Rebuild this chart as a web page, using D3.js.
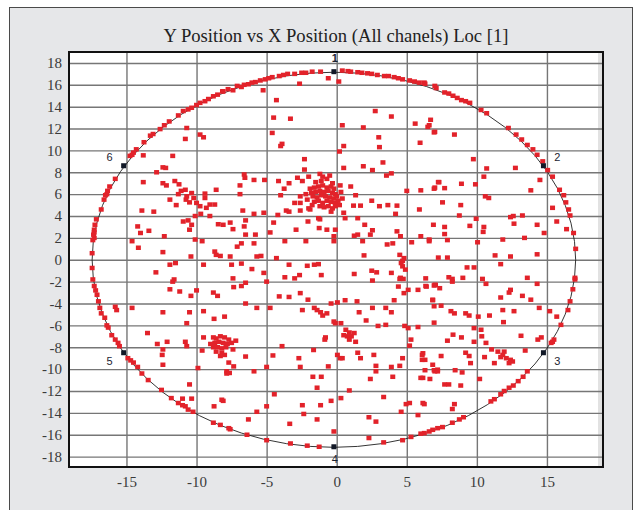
<!DOCTYPE html>
<html>
<head>
<meta charset="utf-8">
<script src="https://cdnjs.cloudflare.com/ajax/libs/d3/7.8.5/d3.min.js"></script>
<style>
  body { margin: 0; background: #fff; }
  svg text { font-family: "Liberation Serif", "DejaVu Serif", serif; }
  .grid line { stroke: #767676; stroke-width: 1.4; }
  .grid path { display: none; }
  .grid text { fill: #3a3a3a; font-size: 15px; }
  .ref text { font-family: "Liberation Sans", Arial, sans-serif; font-size: 11px; fill: #1c2433; }
</style>
</head>
<body>
<div id="chart"></div>
<script>
var chartTitle = "Y Position vs X Position (All chanels) Loc [1]";
var xTicks = [-15, -10, -5, 0, 5, 10, 15];
var yTicks = [18, 16, 14, 12, 10, 8, 6, 4, 2, 0, -2, -4, -6, -8, -10, -12, -14, -16, -18];

// fitted location circle: centre and radius
var ringCenter = [-0.2, 0];
var ringRadius = [17.25, 17.15];

// reference sensors 1..6
var refIds = ["1", "2", "3", "4", "5", "6"];
var refX = [-0.2, 14.75, 14.75, -0.2, -15.2, -15.2];
var refY = [17.2, 8.6, -8.5, -17.1, -8.5, 8.6];

// hits lying on the circle
var ringPts = [
  [-8.1,15.4],[-7.1,15.9],[-6.6,16.0],[-6.05,16.2],[-5.45,16.4],[-4.6,16.7],[-4.1,16.8],[-3.5,17.0],
  [-2.5,17.1],[-1.75,17.2],[-1.15,17.2],[0.4,17.3],[1.0,17.2],[1.5,17.15],[2.2,17.05],[2.9,16.9],
  [3.4,16.8],[4.1,16.7],[4.7,16.5],[5.55,16.3],[6.25,16.2],[7.0,15.9],[6.3,16.1],[7.1,15.7],
  [7.7,15.3],[8.3,15.0],[8.0,15.2],[8.6,14.8],[9.5,14.35],[10.3,13.7],[10.7,13.4],[12.25,12.05],
  [12.8,11.45],[13.6,10.5],[14.0,10.1],[14.7,9.0],[15.05,8.2],[15.4,7.6],[15.9,6.4],[16.2,5.9],
  [16.35,5.25],[16.55,4.6],[16.65,4.05],[16.9,2.45],[17.05,1.0],[17.0,-1.65],
  [17.0,-1.8],[16.85,-2.7],[16.65,-3.8],[16.5,-4.6],[16.0,-5.95],[15.5,-7.3],[15.3,-7.6],
  [13.6,-10.2],[13.3,-10.7],[12.95,-11.1],[12.6,-11.5],[12.3,-11.7],[11.95,-12.0],[11.7,-12.3],
  [11.25,-12.75],[11.0,-12.95],[9.05,-14.4],[8.75,-14.6],[8.25,-14.9],[7.55,-15.3],[6.85,-15.55],
  [6.25,-15.85],[7.2,-15.4],[6.6,-15.7],[6.0,-15.9],[5.3,-16.2],[4.7,-16.5],[3.35,-16.7],[2.3,-16.3],
  [-1.25,-17.1],[-2.1,-17.0],[-3.3,-16.8],[-5.0,-16.5],[-6.4,-16.0],[-7.6,-15.5],
  [-7.7,-15.4],[-8.3,-15.1],[-8.8,-14.9],[-10.25,-13.9],[-10.6,-13.7],[-10.8,-13.4],[-11.0,-13.3],
  [-11.3,-13.1],[-11.8,-12.65],[-12.5,-11.9],[-13.45,-11.0],[-13.9,-10.4],[-14.2,-9.8],[-14.5,-9.4],
  [-14.7,-9.2],[-14.9,-9.0],[-15.5,-7.9],[-15.6,-7.6],[-15.8,-7.3],[-16.05,-6.9],[-16.3,-6.2],
  [-16.4,-6.0],[-16.55,-5.3],[-16.8,-4.9],[-16.9,-4.4],[-17.0,-3.8],[-17.1,-3.2],[-17.2,-2.8],
  [-17.3,-2.4],[-17.4,-1.8],[-17.45,-0.75],[-17.45,0.6],[-17.4,1.8],[-17.3,2.0],[-17.35,2.3],
  [-17.3,2.5],[-17.3,2.75],[-17.25,3.2],[-17.15,3.7],[-16.8,4.6],[-16.6,5.5],[-16.5,5.9],[-16.4,6.0],
  [-16.35,6.3],[-16.2,6.7],[-15.8,7.4],[-14.75,9.5],[-14.6,9.6],[-14.5,9.8],[-14.3,10.1],
  [-13.75,10.75],[-13.3,11.35],[-13.1,11.5],[-12.6,11.95],[-11.95,12.65],[-10.95,13.6],
  [-10.35,13.9],[-9.75,14.35],[-9.15,14.7],[-8.8,14.95],[-8.15,15.4],[-7.75,15.6],
  [-12.3,12.3],[-11.3,13.2],[-10.6,13.75],[-10.0,14.15],[-9.4,14.5],[-8.5,15.1],[-7.4,15.5],
  [-6.8,15.8],[-6.3,16.05],[-5.8,16.25],[-5.1,16.5],[-4.85,16.6],[-3.8,16.9],[-3.0,17.0],
  [-2.2,17.1],[0.8,17.25],[1.8,17.1],[2.5,17.0],[3.7,16.8],[4.4,16.6],[5.2,16.4],[5.9,16.2],
  [8.9,14.6],[9.2,14.5],[13.2,11.0],[14.3,9.6]
];

// dense group near the top centre
var clusterTop = [
  [-1.9,6.5],[-1.6,6.6],[-1.3,6.7],[-1.0,6.8],[-0.7,6.6],[-0.4,6.7],[-0.2,6.5],
  [-1.8,6.1],[-1.5,6.2],[-1.2,6.3],[-0.9,6.2],[-0.6,6.3],[-0.3,6.1],[-0.1,6.0],
  [-1.7,5.8],[-1.4,5.7],[-1.1,5.9],[-0.8,5.8],[-0.5,5.7],[-0.2,5.6],[0.0,5.8],
  [-1.6,5.3],[-1.3,5.4],[-1.0,5.2],[-0.7,5.4],[-0.4,5.3],[-0.1,5.2],[0.1,5.4],
  [-1.2,4.9],[-0.9,4.8],[-0.6,4.9],[-0.3,4.7],[-0.1,4.9],[-1.5,7.1],[-1.1,7.2],
  [-0.7,7.4],[-0.3,7.0],[-0.5,7.7],[-1.0,7.6],[-2.2,6.0],[-2.1,5.5],[-1.9,4.6],
  [-0.4,4.4],[0.3,6.2],[0.2,5.0],[0.4,5.6]
];

// dense group lower left
var clusterLow = [
  [-8.6,-7.2],[-8.3,-7.0],[-8.0,-7.1],[-7.7,-7.3],[-8.7,-7.6],[-8.4,-7.5],[-8.1,-7.6],
  [-7.8,-7.7],[-8.5,-8.0],[-8.2,-8.1],[-7.9,-8.0],[-8.6,-8.4],[-8.2,-8.5],[-7.5,-7.6],
  [-7.4,-8.2],[-8.8,-8.0],[-8.0,-8.7],[-8.3,-8.8],[-7.2,-7.4],[-9.0,-7.7]
];

var innerUL = [
  [-10.7,12.05],[-10.8,11.05],[-9.75,11.45],[-9.5,11.2],[-13.8,9.55],[-11.7,9.5],[-12.4,8.45],
  [-12.2,8.4],[-12.85,8.0],[-13.8,7.1],[-12.4,7.0],[-12.15,6.8],[-11.55,7.2],[-11.25,6.9],
  [-11.9,5.5],[-11.45,5.0],[-13.9,4.5],[-13.05,4.4],[-14.2,3.05],[-14.0,2.45],[-13.4,2.65],
  [-12.3,2.15],[-14.6,1.7],[-14.15,1.1],[-12.4,0.7],[-11.9,-0.45],[-11.5,-0.3],[-12.9,-1.15],
  [-11.6,-1.8],[-10.4,0.3],[-10.1,1.85],[-9.6,1.7],[-9.5,-0.45],[-8.7,0.75],[-8.6,0.45],
  [-10.5,2.75],[-10.6,3.6],[-10.35,3.2],[-10.95,3.5],[-10.1,4.0],[-9.7,4.2],[-9.05,4.0],
  [-8.45,3.25],[-8.7,5.05],[-9.4,6.05],[-8.6,6.4],[-11.3,6.0],[-11.1,6.3],[-10.8,6.4],
  [-10.7,5.8],[-10.35,6.1],[-10.2,5.65],[-10.5,5.25],[-10.0,5.2],[-9.75,4.9],[-9.3,4.75],
  [-9.05,5.05],[-9.4,5.65],[-10.75,5.5]
];

var innerUC = [
  [-0.6,16.6],[0.15,16.3],[-2.65,16.1],[-5.25,15.5],[-4.3,14.6],[-4.5,13.0],[-3.3,12.9],
  [2.75,13.6],[3.9,13.1],[5.6,12.45],[6.7,12.8],[6.6,12.3],[7.0,11.7],[-4.6,11.6],[0.4,12.3],
  [1.9,12.1],[3.0,11.2],[3.05,10.3],[5.95,10.7],[-4.0,10.4],[-3.9,10.6],[0.5,10.4],[0.2,9.9],
  [-2.3,9.2],[0.5,8.4],[1.9,8.55],[2.55,8.2],[3.3,8.9],[3.55,7.7],[3.9,7.9],[-2.3,8.25],
  [-6.6,7.8],[-6.55,7.5],[-5.9,7.3],[-5.15,7.3],[-4.15,7.2],[-3.4,7.0],[-3.75,6.5],[-4.0,5.9],
  [-2.8,7.5],[-2.45,7.2],[-2.0,7.6],[-1.2,7.85],[0.25,6.8],[1.0,6.7],[1.35,5.9],[2.5,5.4],
  [3.05,4.9],[3.65,5.0],[4.3,4.95],[6.0,6.35],[5.0,6.3],[7.3,7.1],[7.0,6.6],[5.9,4.6],[4.2,4.2],
  [4.3,2.6],[2.0,3.2],[2.55,2.7],[2.4,2.3],[6.9,3.2],[6.0,2.15],[1.2,4.95],[1.7,4.95],[0.5,4.3],
  [0.6,3.8],[1.5,3.8],[1.25,2.2],[1.5,2.3],[-2.6,5.8],[-2.6,5.2],[-3.0,5.2],[-3.6,4.5],
  [-3.4,4.4],[-2.6,4.5],[-2.0,4.7],[-1.75,5.0],[-1.3,3.8],[-1.2,3.7],[-4.2,4.1],[-4.5,3.4],
  [-5.2,4.3],[-5.9,4.2],[-6.7,4.5],[-6.9,6.0],[-6.9,6.8],[-6.5,3.6],[-6.6,3.05],[-7.4,2.8],
  [-7.6,3.4],[-8.1,3.2],[-6.5,2.3],[-5.8,2.3],[-4.75,2.5],[-2.9,2.75],[-2.05,3.5],[-1.25,2.9],
  [-0.7,2.75],[-0.1,2.75],[-0.2,2.15],[4.55,2.15]
];

var innerUR = [
  [6.5,12.15],[6.95,11.65],[8.4,11.45],[9.75,9.2],[10.7,8.35],[12.75,8.4],[14.5,7.3],[10.5,7.6],
  [9.9,6.9],[8.9,6.95],[7.25,7.1],[6.95,6.5],[7.7,6.55],[10.6,5.8],[10.85,5.65],[13.85,6.35],
  [7.55,5.25],[8.85,5.0],[15.4,4.75],[15.7,3.5],[16.4,2.8],[8.75,4.05],[9.95,3.75],[12.4,3.9],
  [12.6,4.0],[12.65,3.3],[13.25,4.05],[14.3,3.2],[14.8,2.45],[7.7,3.0],[9.5,3.1],[10.5,3.0],
  [10.45,2.55],[7.7,2.35],[6.6,1.85],[7.9,1.8],[10.05,1.6],[11.85,1.85],[13.4,2.0],[14.3,0.5],
  [11.3,0.4],[11.7,-0.4],[12.4,0.3],[7.25,0.2],[7.9,0.2],[9.3,-0.7],[9.8,-0.7],[9.0,-1.65],
  [10.4,-1.75],[13.6,-1.65],[14.3,-2.2],[8.0,-1.6],[8.25,-1.75],[6.35,-1.7],[6.95,-2.35]
];

var innerLL = [
  [-15.8,-4.3],[-15.7,-4.6],[-14.6,-4.4],[-12.4,-4.8],[-10.5,-4.8],[-10.4,-3.3],[-10.0,-2.8],
  [-11.2,-2.9],[-11.7,-2.0],[-11.9,-2.7],[-8.8,-3.0],[-8.5,-3.3],[-9.5,-4.7],[-8.75,-5.4],
  [-8.0,-5.2],[-10.7,-5.8],[-13.5,-6.7],[-12.8,-7.7],[-12.1,-7.5],[-12.4,-8.2],[-12.45,-8.7],
  [-12.4,-9.6],[-10.8,-7.5],[-10.7,-7.9],[-9.6,-8.3],[-9.9,-9.9],[-9.5,-7.1],[-8.8,-7.1],
  [-10.5,-11.4],[-11.0,-12.7],[-10.35,-12.7],[-8.75,-13.4],[-8.1,-12.9],[-7.7,-9.4],[-7.85,-10.2]
];

var innerLC = [
  [-7.1,1.2],[-6.8,1.5],[-5.9,1.5],[-3.7,1.7],[-2.2,1.7],[-0.2,1.7],[1.85,1.7],[3.6,1.4],[4.0,1.5],
  [5.35,1.6],[6.6,1.7],[-8.3,0.35],[-7.6,0.3],[-5.7,0.3],[-5.4,0.35],[-4.3,0.15],[-7.5,-0.45],
  [-6.8,-0.35],[-6.05,-0.85],[-5.2,-1.2],[-3.4,-0.45],[-2.1,-0.55],[-1.6,-0.45],[-1.3,-0.4],
  [-1.1,-1.4],[-2.65,-1.4],[-3.0,-1.7],[-3.7,-1.6],[-7.4,-1.7],[-6.5,-2.1],[-6.8,-2.4],
  [-7.35,-2.5],[-5.0,-2.0],[-4.1,-3.35],[-3.4,-3.4],[-2.6,-3.05],[-2.05,-3.65],[-6.5,-4.0],
  [-5.7,-4.4],[-4.75,-4.4],[-2.45,-4.6],[-1.6,-4.4],[-1.4,-4.6],[-1.15,-4.8],[-1.0,-5.1],
  [-0.7,-4.9],[-0.4,-4.0],[0.05,-3.9],[0.6,-3.7],[1.45,-3.8],[1.6,-4.8],[2.1,-5.55],[1.95,0.4],
  [2.5,-1.0],[2.85,-1.15],[2.55,-1.9],[1.25,-1.3],[3.9,-1.2],[4.5,-1.75],[4.8,0.15],[4.7,-0.6],
  [4.6,-0.3],[4.4,-2.45],[4.8,-3.05],[5.1,-2.75],[5.8,-2.75],[6.4,-2.45],[7.0,-2.3],[7.35,-2.6],
  [6.85,-3.7],[3.5,-4.4],[3.9,-4.8],[4.1,-3.7],[2.55,-4.4],[2.95,-6.05],[3.5,-5.95],[4.85,-6.05],
  [5.1,-6.25],[5.8,-6.15],[5.3,-7.3],[5.2,-7.85],[6.15,-8.55],[6.3,-9.15],[6.85,-9.6],[7.2,-10.05],
  [7.0,-10.2],[6.15,-10.8],[6.3,-10.1],[4.0,-10.7],[2.8,-10.2],[2.4,-10.9],[1.5,-8.5],[1.7,-9.0],
  [2.65,-8.7],[2.8,-9.7],[3.9,-9.8],[4.5,-9.7],[4.7,-9.0],[4.95,-13.2],[5.2,-13.1],[4.6,-13.9],
  [5.8,-14.2],[6.15,-13.1],[3.35,-12.55],[2.3,-14.4],[2.8,-14.8],[0.3,-12.65],[-0.4,-12.9],
  [-1.15,-13.3],[-1.4,-14.6],[-2.35,-14.1],[-2.45,-13.3],[-3.35,-15.0],[-4.45,-12.3],[-5.7,-13.9],
  [-5.0,-13.4],[-6.3,-14.6],[-8.2,-12.8],[-0.2,-15.7],[0.3,-5.8],[0.65,-6.4],[0.9,-6.65],
  [1.05,-7.0],[0.75,-7.0],[1.25,-6.7],[0.9,-7.3],[1.35,-7.5],[0.5,-6.9],[-0.1,-5.8],[-0.2,-5.65],
  [-0.8,-7.1],[-0.85,-7.3],[-1.65,-8.25],[-3.9,-7.9],[-4.55,-8.75],[-2.7,-9.0],[-2.6,-9.8],
  [-0.6,-9.75],[0.05,-8.7],[0.25,-9.0],[0.4,-9.0],[-1.7,-10.7],[-1.4,-11.7],[-1.1,-10.7],
  [0.9,-11.95],[-5.9,-10.2],[-7.85,-10.4],[-5.0,-9.8],[-6.5,-8.85],[-7.35,-9.75],[-7.65,-10.35],
  [4.5,0.45],[4.7,-0.1],[4.9,-0.9],[4.55,-1.65],[4.75,-1.75]
];

var innerLR = [
  [6.35,-2.4],[7.05,-2.3],[8.25,-2.0],[10.65,-2.2],[12.4,-2.75],[12.3,-3.0],[13.25,-3.3],
  [11.7,-3.45],[12.65,-4.7],[11.85,-4.6],[13.85,-3.65],[14.45,-4.4],[15.2,-4.7],[15.7,-5.2],
  [6.85,-3.65],[6.95,-4.25],[7.45,-4.2],[8.15,-4.7],[8.4,-4.9],[9.2,-4.9],[9.45,-5.1],[10.1,-5.2],
  [10.9,-5.1],[11.9,-5.7],[6.95,-5.75],[9.8,-6.25],[10.3,-6.4],[10.35,-7.0],[10.65,-7.6],
  [8.3,-6.85],[8.9,-7.1],[7.9,-7.4],[9.8,-7.5],[13.15,-6.95],[14.35,-7.3],[14.6,-7.1],[15.4,-7.5],
  [11.05,-8.2],[11.5,-8.4],[11.85,-8.7],[12.4,-9.15],[12.55,-9.3],[11.95,-8.4],[13.45,-8.3],
  [10.55,-8.9],[11.25,-9.45],[12.3,-9.45],[11.7,-8.9],[12.1,-9.0],[6.1,-8.7],[7.45,-8.8],
  [9.2,-8.5],[9.45,-8.8],[9.55,-9.45],[8.45,-10.1],[8.95,-10.3],[6.95,-10.1],[7.2,-10.2],
  [6.0,-10.8],[6.65,-10.9],[7.7,-11.4],[8.0,-11.4],[8.85,-11.5],[10.2,-10.9],[6.25,-13.2],
  [8.4,-13.2],[8.25,-13.65],[6.1,-9.15]
];

function scatterChart() {
  var _chart = {};

  var _width = 640, _height = 510,
    _margins = {top: 52, left: 69, right: 37, bottom: 43},
    _xDomain = [-19.1, 19.0],
    _yDomain = [-18.95, 19.0],
    _svg, _bodyG, _x, _y, _w, _h;

  _chart.render = function (id) {
    _w = _width - _margins.left - _margins.right;
    _h = _height - _margins.top - _margins.bottom;
    _x = d3.scaleLinear().domain(_xDomain).range([0, _w]);
    _y = d3.scaleLinear().domain(_yDomain).range([_h, 0]);

    _svg = d3.select('#' + id).append("svg")
      .attr("width", _width)
      .attr("height", _height);

    renderFrame();
    renderGrid();
    renderRing();
    renderPoints();
    renderRefs();

    _bodyG.append("rect")
      .attr("width", _w)
      .attr("height", _h)
      .attr("fill", "none")
      .attr("stroke", "#111")
      .attr("stroke-width", 2);
  };

  function renderFrame() {
    _svg.append("rect")
      .attr("x", 9.5).attr("y", 7.5)
      .attr("width", 623).attr("height", 530)
      .attr("fill", "#e6e7e9")
      .attr("stroke", "#4a4a4a");

    _svg.append("text")
      .attr("x", _margins.left + _w / 2)
      .attr("y", 42)
      .attr("text-anchor", "middle")
      .attr("textLength", 345)
      .attr("lengthAdjust", "spacingAndGlyphs")
      .style("font-size", "18px")
      .style("fill", "#222")
      .text(chartTitle);

    _bodyG = _svg.append("g")
      .attr("transform", "translate(" + _margins.left + "," + _margins.top + ")");

    _bodyG.append("rect")
      .attr("width", _w)
      .attr("height", _h)
      .attr("fill", "#fff");

    // grey strip on the right edge of the plot
    _bodyG.append("rect")
      .attr("x", _w - 5)
      .attr("width", 5)
      .attr("height", _h)
      .attr("fill", "#e2e2e2");
  }

  function renderGrid() {
    var fmt = function (d) { return String(d); };

    _bodyG.append("g")
      .attr("class", "grid")
      .call(d3.axisLeft(_y).tickValues(yTicks).tickFormat(fmt)
        .tickSize(-_w).tickPadding(7));

    _bodyG.append("g")
      .attr("class", "grid")
      .attr("transform", "translate(0," + _h + ")")
      .call(d3.axisBottom(_x).tickValues(xTicks).tickFormat(fmt)
        .tickSize(-_h).tickPadding(9));
  }

  function renderRing() {
    _bodyG.append("ellipse")
      .attr("cx", _x(ringCenter[0]))
      .attr("cy", _y(ringCenter[1]))
      .attr("rx", _x(ringRadius[0]) - _x(0))
      .attr("ry", _y(0) - _y(ringRadius[1]))
      .attr("fill", "none")
      .attr("stroke", "#1e1e1e")
      .attr("stroke-width", 0.9);
  }

  function renderPoints() {
    var pts = ringPts.concat(clusterTop, clusterLow, innerUL, innerUC,
      innerUR, innerLL, innerLC, innerLR);

    _bodyG.append("g")
      .selectAll("rect.hit")
      .data(pts)
      .enter().append("rect")
      .attr("class", "hit")
      .attr("x", function (d) { return _x(d[0]) - 2.5; })
      .attr("y", function (d) { return _y(d[1]) - 2.25; })
      .attr("width", 5)
      .attr("height", 4.5)
      .attr("fill", "#e2222a");
  }

  function renderRefs() {
    var refs = refIds.map(function (id, i) {
      return {id: id, x: refX[i], y: refY[i]};
    });

    var g = _bodyG.append("g").attr("class", "ref")
      .selectAll("g")
      .data(refs)
      .enter().append("g")
      .attr("transform", function (d) {
        return "translate(" + _x(d.x) + "," + _y(d.y) + ")";
      });

    g.append("rect")
      .attr("x", -2.5).attr("y", -2.5)
      .attr("width", 5).attr("height", 5)
      .attr("fill", "#111827");

    g.append("text")
      .attr("x", function (d) {
        return Math.abs(d.x) < 1 ? 1 : (d.x > 0 ? 14 : -14);
      })
      .attr("y", function (d) {
        if (Math.abs(d.x) < 1) return d.y > 0 ? -10 : 16;
        return d.y > 0 ? -5 : 12;
      })
      .attr("text-anchor", "middle")
      .style("font-weight", function (d) { return d.id === "1" ? "bold" : "normal"; })
      .text(function (d) { return d.id; });
  }

  return _chart;
}

scatterChart().render("chart");
</script>
</body>
</html>
